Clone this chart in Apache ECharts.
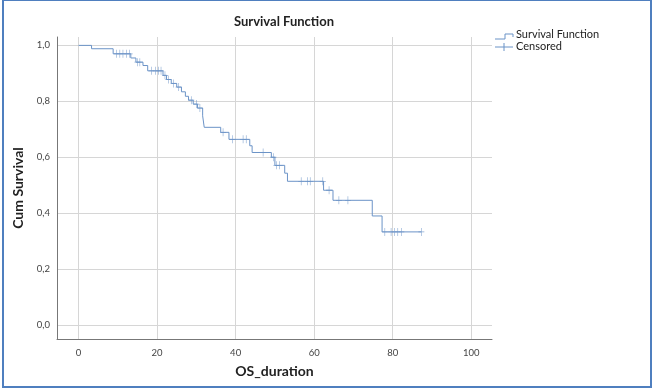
<!DOCTYPE html>
<html>
<head>
<meta charset="utf-8">
<script src="https://cdn.jsdelivr.net/npm/echarts@6/dist/echarts.min.js"></script>
<style>
  html, body { margin: 0; padding: 0; background: #fff; }
  #frame { position: absolute; left: 2px; top: 0; width: 646px; height: 385px; border: 2px solid #4f7fbf; border-top-width: 1px; }
  #myChart1 { position: absolute; left: 0; top: 0; width: 652px; height: 390px; }
</style>
</head>
<body>
<div id="myChart1"></div>
<div id="frame"></div>
<script>
// Kaplan-Meier step points (time, cumulative survival)
const stepTime = [0, 3.3, 8.8, 13.3, 14.6, 16.4, 17.6, 21.5, 22.4, 23.6, 25.0, 26.2, 27.2, 28.0, 29.2, 30.3, 31.6, 32.0,
  36.2, 38.3, 43.6, 44.2, 49.1, 50.0, 52.5, 53.2, 62.4, 64.8, 74.8, 77.3, 87.3]
const stepSurv = [1.0, 0.988, 0.970, 0.955, 0.940, 0.928, 0.909, 0.893, 0.878, 0.864, 0.851, 0.834, 0.818, 0.804, 0.790, 0.776, 0.748, 0.707,
  0.689, 0.664, 0.641, 0.617, 0.600, 0.571, 0.543, 0.514, 0.482, 0.446, 0.390, 0.333, 0.333]

// censored observations
const censorTime = [9.7, 10.5, 11.3, 12.2, 13.0, 15.0, 15.6, 18.6, 19.6, 20.4, 21.0, 22.0, 22.9, 24.2, 25.5, 28.7, 30.0, 30.9,
  36.8, 39.2, 41.9, 42.7, 47.0, 49.6, 50.4, 51.2, 56.7, 58.3, 59.0, 62.2, 63.8, 66.3, 68.6, 78.0, 79.6, 80.5, 81.3, 82.2, 87.3]
const censorSurv = [0.970, 0.970, 0.970, 0.970, 0.970, 0.940, 0.940, 0.909, 0.909, 0.909, 0.909, 0.893, 0.878, 0.864, 0.851, 0.804, 0.790, 0.776,
  0.689, 0.664, 0.664, 0.664, 0.617, 0.600, 0.571, 0.571, 0.514, 0.514, 0.514, 0.514, 0.482, 0.446, 0.446, 0.333, 0.333, 0.333, 0.333, 0.333, 0.333]

const xTicks = [0, 20, 40, 60, 80, 100]
const yTicks = [0, 0.2, 0.4, 0.6, 0.8, 1.0]

const lineColor = '#6b93c7'
const gridColor = '#d6d6d6'
const fontFamily = 'Lato, "Open Sans", sans-serif'

const myChart = echarts.init(document.getElementById('myChart1'))

const option = {
  animation: false,
  title: {
    text: 'Survival Function',
    left: 279,
    top: 10,
    textAlign: 'center',
    textStyle: { fontFamily: fontFamily, fontSize: 13, fontWeight: 'bold', color: '#222' }
  },
  grid: {
    left: 57,
    right: 160,
    top: 37,
    bottom: 51
  },
  xAxis: {
    type: 'value',
    min: -5.5,
    max: 105.3,
    name: 'OS_duration',
    nameLocation: 'middle',
    nameGap: 25,
    nameTextStyle: { fontFamily: fontFamily, fontSize: 14, fontWeight: 'bold', color: '#222' },
    axisLine: { show: true, onZero: false, lineStyle: { color: '#777', width: 1 } },
    axisTick: { show: false, customValues: xTicks },
    axisLabel: { customValues: xTicks, margin: 9, fontFamily: fontFamily, fontSize: 9.5, color: '#444' },
    splitLine: { show: true, lineStyle: { color: gridColor, width: 1 } }
  },
  yAxis: {
    type: 'value',
    min: -0.05,
    max: 1.03,
    name: 'Cum Survival',
    nameLocation: 'middle',
    nameGap: 27,
    nameTextStyle: { fontFamily: fontFamily, fontSize: 14, fontWeight: 'bold', color: '#222' },
    axisLine: { show: true, onZero: false, lineStyle: { color: '#777', width: 1 } },
    axisTick: { show: false, customValues: yTicks },
    axisLabel: {
      customValues: yTicks,
      margin: 7,
      fontFamily: fontFamily,
      fontSize: 9.5,
      color: '#444',
      formatter: function(v) { return v.toFixed(1).replace('.', ',') }
    },
    splitLine: { show: true, lineStyle: { color: gridColor, width: 1 } }
  },
  graphic: [
    {
      type: 'polyline',
      shape: { points: [[495, 39], [505, 39], [505, 34], [513, 34], [513, 37]] },
      style: { stroke: lineColor, lineWidth: 1, fill: null }
    },
    {
      type: 'text',
      left: 516, top: 29,
      style: { text: 'Survival Function', fontFamily: fontFamily, fontSize: 11, fill: '#222' }
    },
    {
      type: 'polyline',
      shape: { points: [[495, 47], [513, 47]] },
      style: { stroke: lineColor, lineWidth: 1, fill: null }
    },
    {
      type: 'polyline',
      shape: { points: [[504, 43], [504, 51]] },
      style: { stroke: lineColor, lineWidth: 1, fill: null }
    },
    {
      type: 'text',
      left: 516, top: 41,
      style: { text: 'Censored', fontFamily: fontFamily, fontSize: 11, fill: '#222' }
    }
  ],
  series: [
    {
      name: 'Survival Function',
      type: 'line',
      step: 'end',
      showSymbol: false,
      symbol: 'none',
      lineStyle: { color: lineColor, width: 1 },
      data: stepTime.map((t, i) => [t, stepSurv[i]])
    },
    {
      name: 'Censored',
      type: 'scatter',
      symbol: 'path://M4.5,0 L5.5,0 L5.5,10 L4.5,10 Z M0,4.5 L10,4.5 L10,5.5 L0,5.5 Z',
      symbolSize: [6, 8],
      symbolKeepAspect: false,
      itemStyle: { color: lineColor },
      data: censorTime.map((t, i) => [t, censorSurv[i]])
    }
  ]
}
myChart.setOption(option)
window.addEventListener('resize', function() {
  myChart.resize()
})
</script>
</body>
</html>
